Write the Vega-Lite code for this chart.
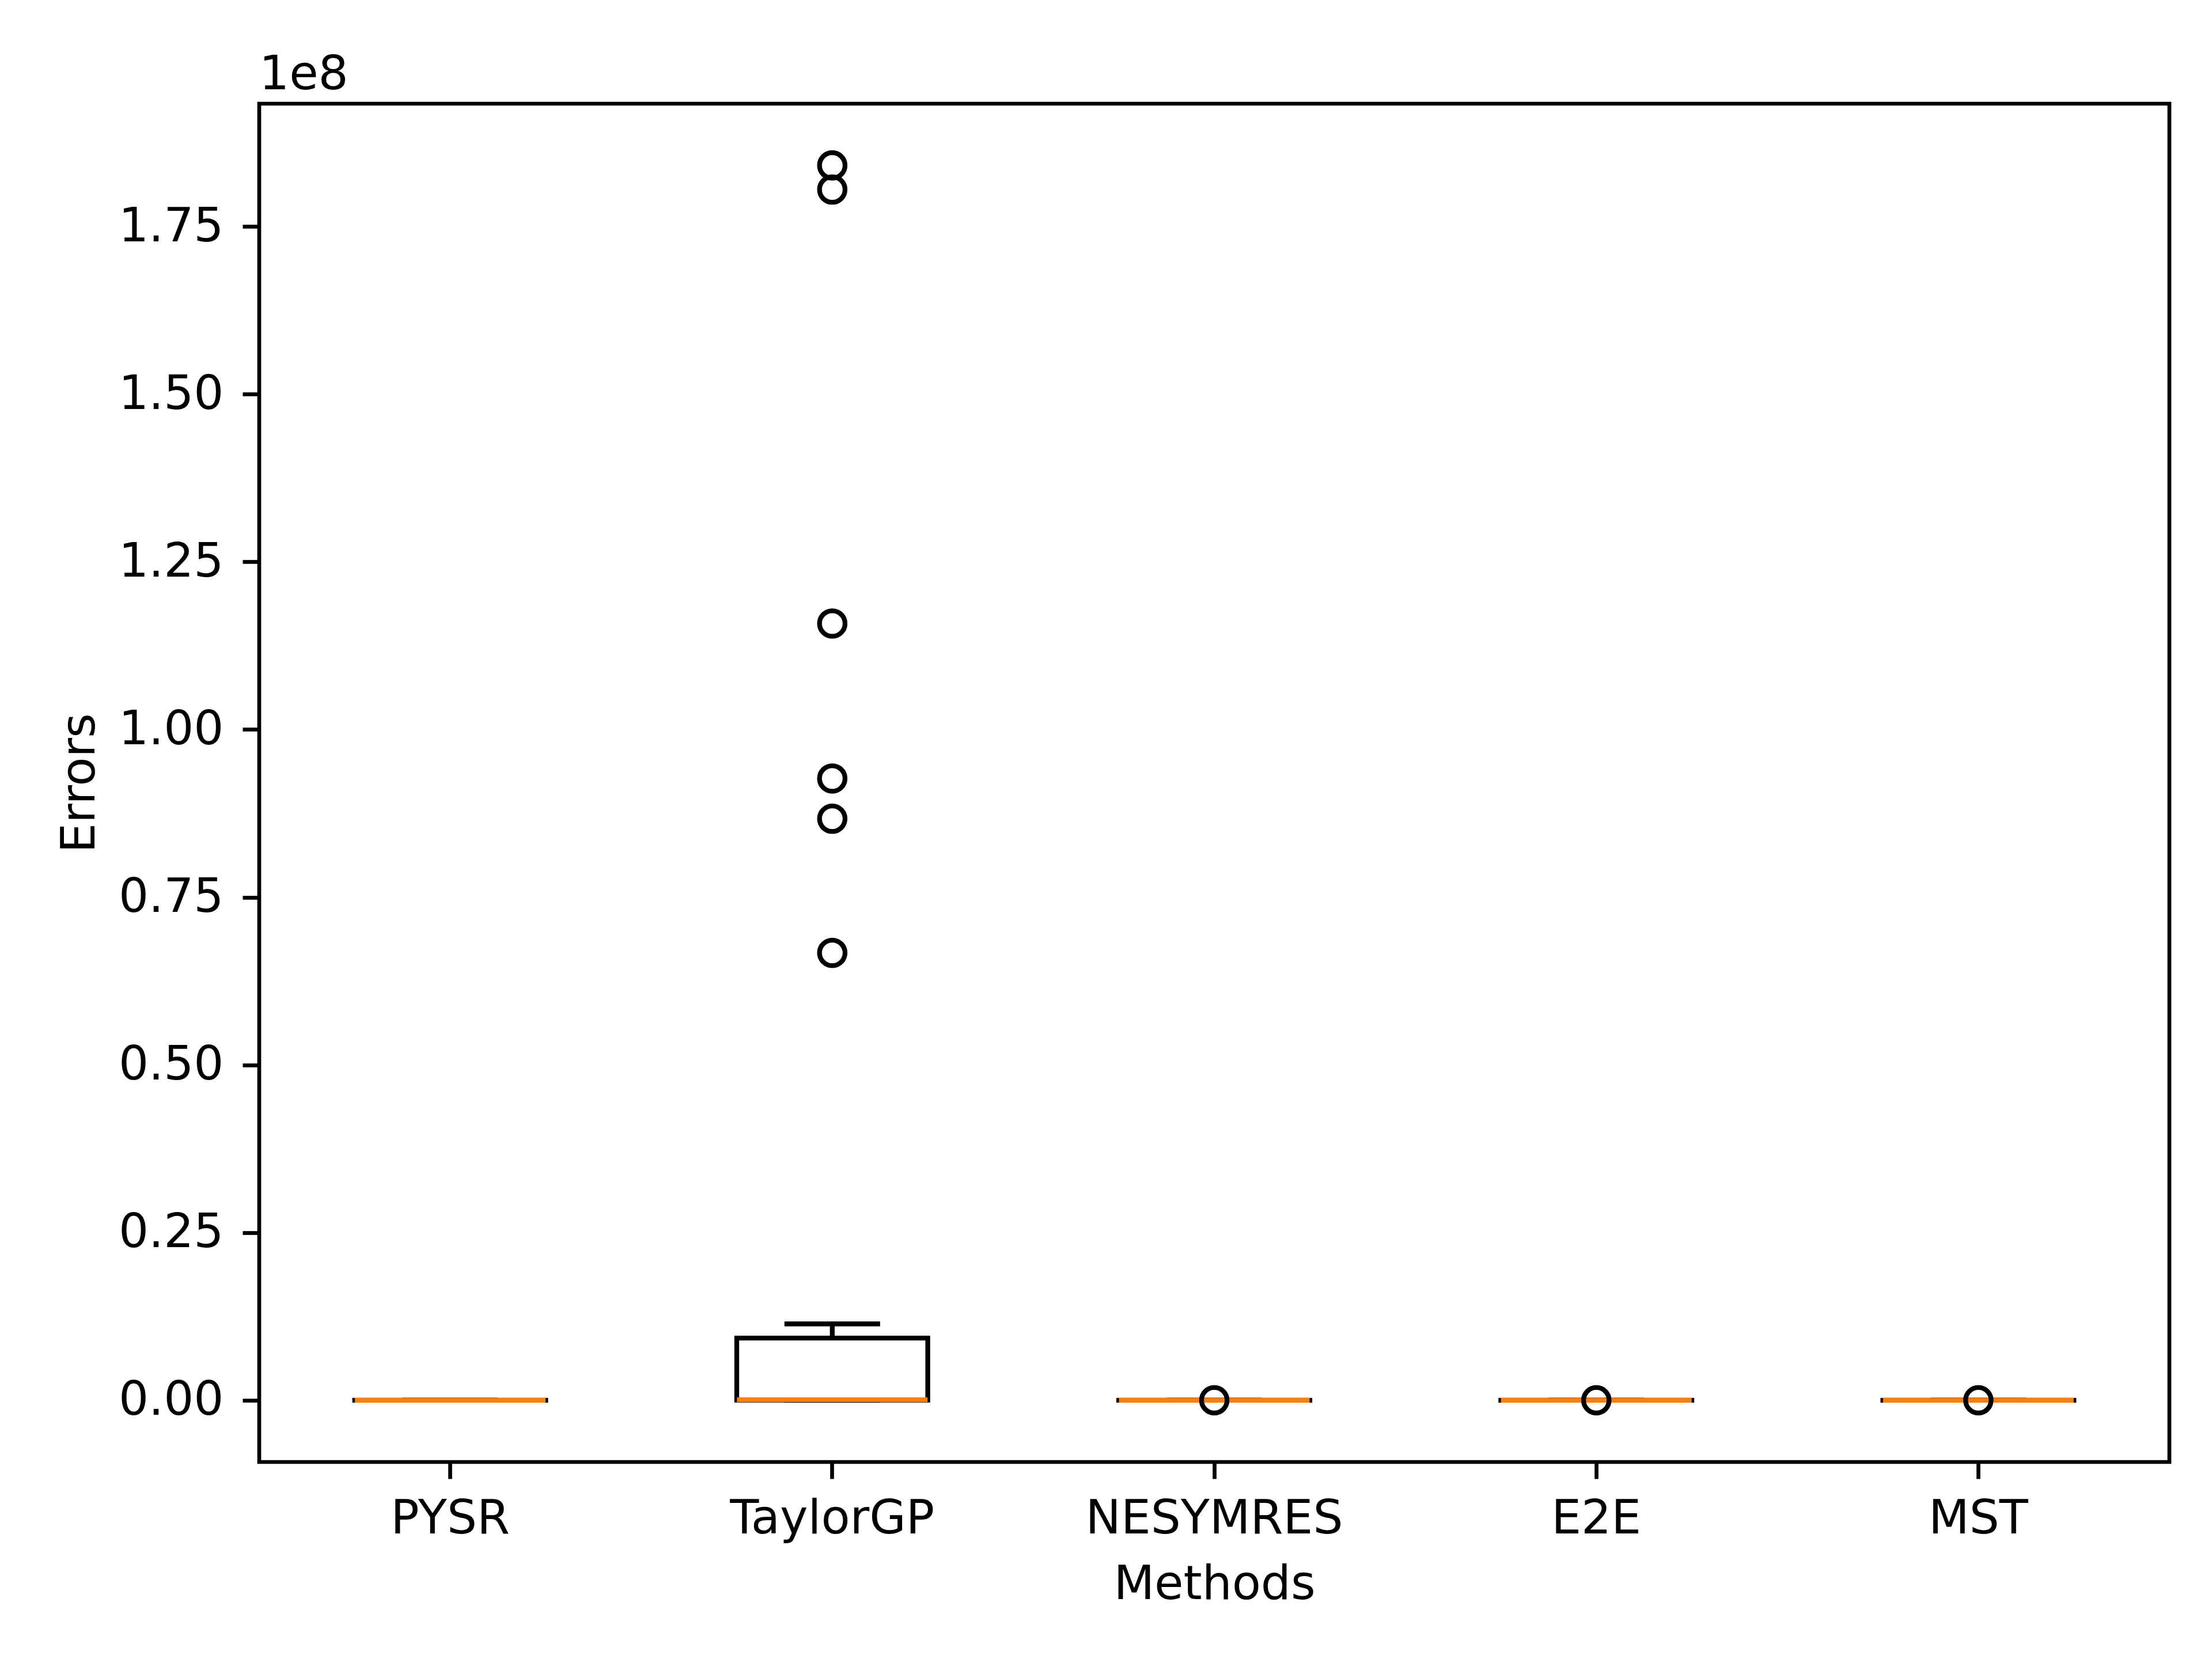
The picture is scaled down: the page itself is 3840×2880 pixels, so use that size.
{
  "$schema": "https://vega.github.io/schema/vega-lite/v6.json",
  "width": 3316,
  "height": 2358,
  "autosize": "none",
  "padding": {"left": 450, "top": 180, "right": 74, "bottom": 342},
  "background": "white",
  "config": {
    "font": "DejaVu Sans",
    "view": {"stroke": "black", "strokeWidth": 6.7},
    "axis": {
      "grid": false,
      "domain": false,
      "tickColor": "black",
      "tickSize": 29,
      "tickWidth": 6.7,
      "labelPadding": 33,
      "labelFontSize": 82,
      "labelColor": "black",
      "labelFont": "DejaVu Sans",
      "labelLimit": 0,
      "labelOverlap": false,
      "titleFontSize": 82,
      "titleFontWeight": "normal",
      "titleColor": "black",
      "titleFont": "DejaVu Sans",
      "titlePadding": 33
    }
  },
  "title": {
    "text": "1e8",
    "anchor": "start",
    "frame": "group",
    "fontSize": 82,
    "fontWeight": "normal",
    "font": "DejaVu Sans",
    "color": "black",
    "offset": 8
  },
  "datasets": {
    "boxes": [
      {"method": "PYSR", "lower": 0, "q1": 2, "median": 5, "q3": 40, "upper": 120},
      {"method": "TaylorGP", "lower": 0, "q1": 20000, "median": 80000, "q3": 9280000, "upper": 11390000},
      {"method": "NESYMRES", "lower": 0, "q1": 5, "median": 20, "q3": 90, "upper": 200},
      {"method": "E2E", "lower": 0, "q1": 3, "median": 10, "q3": 60, "upper": 150},
      {"method": "MST", "lower": 0, "q1": 4, "median": 15, "q3": 70, "upper": 170}
    ],
    "outliers": [
      {"method": "TaylorGP", "error": 184100000},
      {"method": "TaylorGP", "error": 180500000},
      {"method": "TaylorGP", "error": 115800000},
      {"method": "TaylorGP", "error": 92700000},
      {"method": "TaylorGP", "error": 86700000},
      {"method": "TaylorGP", "error": 66700000},
      {"method": "NESYMRES", "error": 1500},
      {"method": "E2E", "error": 1200},
      {"method": "MST", "error": 1800}
    ]
  },
  "encoding": {
    "x": {
      "field": "method",
      "type": "nominal",
      "sort": ["PYSR", "TaylorGP", "NESYMRES", "E2E", "MST"],
      "scale": {"type": "band", "paddingInner": 0, "paddingOuter": 0},
      "axis": {"title": "Methods", "labelAngle": 0, "labelPadding": 29}
    }
  },
  "layer": [
    {
      "data": {"name": "boxes"},
      "mark": {"type": "rule", "color": "black", "strokeWidth": 8.3, "opacity": 1},
      "encoding": {
        "y": {
          "field": "q3",
          "type": "quantitative",
          "scale": {"domain": [-9200000, 193300000], "nice": false, "zero": false},
          "axis": {
            "title": "Errors",
            "titleX": -287,
            "titleY": 1179,
            "titleBaseline": "alphabetic",
            "titleAlign": "center",
            "titleAngle": 270,
            "values": [0, 25000000, 50000000, 75000000, 100000000, 125000000, 150000000, 175000000],
            "labelExpr": "format(datum.value / 100000000, '.2f')"
          }
        },
        "y2": {"field": "upper"}
      }
    },
    {
      "data": {"name": "boxes"},
      "mark": {"type": "rule", "color": "black", "strokeWidth": 8.3, "opacity": 1},
      "encoding": {
        "y": {"field": "lower", "type": "quantitative"},
        "y2": {"field": "q1"}
      }
    },
    {
      "data": {"name": "boxes"},
      "mark": {"type": "tick", "color": "black", "size": 166, "thickness": 8.3, "orient": "horizontal", "opacity": 1},
      "encoding": {
        "y": {"field": "upper", "type": "quantitative"}
      }
    },
    {
      "data": {"name": "boxes"},
      "mark": {"type": "tick", "color": "black", "size": 166, "thickness": 8.3, "orient": "horizontal", "opacity": 1},
      "encoding": {
        "y": {"field": "lower", "type": "quantitative"}
      }
    },
    {
      "data": {"name": "boxes"},
      "mark": {"type": "bar", "width": {"band": 0.5}, "fill": "white", "fillOpacity": 0, "stroke": "black", "strokeWidth": 8.3, "strokeOpacity": 1},
      "encoding": {
        "y": {"field": "q1", "type": "quantitative"},
        "y2": {"field": "q3"}
      }
    },
    {
      "data": {"name": "boxes"},
      "mark": {"type": "tick", "color": "#ff7f0e", "size": 331, "thickness": 8.3, "orient": "horizontal", "opacity": 1},
      "encoding": {
        "y": {"field": "median", "type": "quantitative"}
      }
    },
    {
      "data": {"name": "outliers"},
      "mark": {"type": "point", "shape": "circle", "filled": false, "stroke": "black", "strokeWidth": 8.3, "size": 1963, "opacity": 1},
      "encoding": {
        "y": {"field": "error", "type": "quantitative"}
      }
    }
  ]
}
